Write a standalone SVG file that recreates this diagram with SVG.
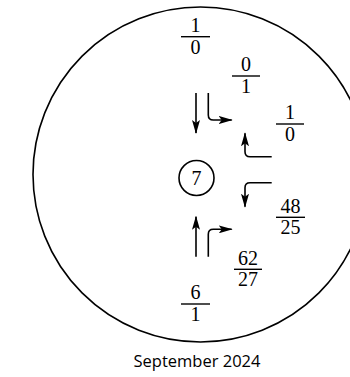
<svg xmlns="http://www.w3.org/2000/svg" width="350" height="377" viewBox="0 0 350 377">
<style>
.ln{fill:none;stroke:#000;stroke-width:1.6}
.fr{font-family:"Liberation Serif","DejaVu Serif",serif;font-size:20px;text-anchor:middle;fill:#000}
.bar{stroke:#000;stroke-width:1.4}
.cap{font-family:"Open Sans","Noto Sans",sans-serif;font-size:16.5px;text-anchor:middle;fill:#000}
</style>
<defs>
<marker id="ah" markerWidth="14" markerHeight="8" refX="13" refY="4" orient="auto" markerUnits="userSpaceOnUse">
<path d="M0,0 L14,4 L0,8 L3,4 z" fill="#000"/>
</marker>
</defs>
<rect width="350" height="377" fill="#fff"/>
<g id="outer"><circle cx="200.5" cy="174.5" r="167.5" class="ln"/></g>
<g id="center"><circle cx="196.5" cy="178" r="17.5" class="ln"/><text x="196.5" y="185" class="fr">7</text></g>
<g id="f1"><text x="195.5" y="32" class="fr">1</text><line x1="181" y1="36.7" x2="210" y2="36.7" class="bar"/><text x="195.5" y="53.5" class="fr">0</text></g>
<g id="f2"><text x="246" y="71.3" class="fr">0</text><line x1="232" y1="76" x2="260" y2="76" class="bar"/><text x="246" y="93" class="fr">1</text></g>
<g id="f3"><text x="290" y="119.3" class="fr">1</text><line x1="276" y1="124" x2="304" y2="124" class="bar"/><text x="290" y="141" class="fr">0</text></g>
<g id="f4"><text x="290.5" y="212.6" class="fr">48</text><line x1="276" y1="217.3" x2="305" y2="217.3" class="bar"/><text x="290.5" y="234.3" class="fr">25</text></g>
<g id="f5"><text x="248" y="264.6" class="fr">62</text><line x1="234" y1="269.3" x2="262" y2="269.3" class="bar"/><text x="248" y="286.3" class="fr">27</text></g>
<g id="f6"><text x="195.5" y="299.3" class="fr">6</text><line x1="181" y1="304" x2="210" y2="304" class="bar"/><text x="195.5" y="321" class="fr">1</text></g>
<g id="connectors">
<path d="M196,93 V133" class="ln" marker-end="url(#ah)"/>
<path d="M208.3,93 V115 Q208.3,120 213.3,120 H231.7" class="ln" marker-end="url(#ah)"/>
<path d="M271.7,156.7 H250 Q245,156.7 245,151.7 V133.3" class="ln" marker-end="url(#ah)"/>
<path d="M271.7,182.7 H250 Q245,182.7 245,187.7 V206.7" class="ln" marker-end="url(#ah)"/>
<path d="M196,256.7 V216.7" class="ln" marker-end="url(#ah)"/>
<path d="M208.3,256.7 V234.3 Q208.3,229.3 213.3,229.3 H231.7" class="ln" marker-end="url(#ah)"/>
</g>
<text x="197" y="367" class="cap">September 2024</text>
</svg>
